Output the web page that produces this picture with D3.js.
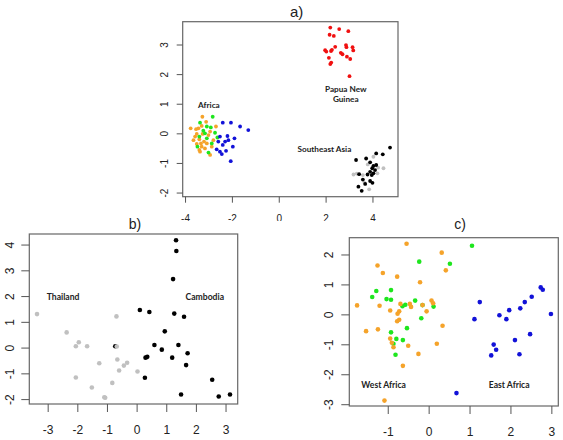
<!DOCTYPE html>
<html><head><meta charset="utf-8">
<script src="https://cdn.jsdelivr.net/npm/d3@7"></script>
<style>
html,body{margin:0;padding:0;background:#fff;}
svg{display:block;}
</style></head>
<body>
<svg id="chart" width="563" height="440"></svg>
<script>
// ---------- Panel a data ----------
const paRedX = [2.20,2.58,2.97,2.17,2.35,2.41,2.87,2.89,1.98,2.03,2.23,2.27,2.65,2.72,3.15,3.18,2.14,2.91,3.05,2.20,2.24,3.02];
const paRedY = [3.57,3.52,3.45,3.33,3.29,2.92,2.98,2.91,2.81,2.76,2.78,2.82,2.72,2.67,2.91,2.80,2.55,2.59,2.51,2.34,2.39,1.93];
const paOrangeX = [-3.26,-3.76,-3.53,-3.29,-3.50,-3.25,-3.00,-3.39,-3.64,-3.19,-3.07,-3.50,-3.29,-3.39,-3.15,-2.93,-3.36,-2.79,-2.68,-2.93,-3.57,-3.32,-2.86,-3.43,-3.10];
const paOrangeY = [0.56,0.17,0.14,0.25,-0.02,-0.02,-0.06,-0.20,-0.23,-0.28,-0.34,-0.36,-0.45,-0.56,-0.51,-0.73,-0.62,-0.23,0.23,0.06,-0.11,-0.34,-0.45,0.17,0.39];
const paGreenX = [-2.82,-3.36,-3.07,-2.90,-2.72,-3.22,-3.39,-3.07,-3.47,-3.00,-2.62,-3.15,-2.86];
const paGreenY = [0.56,0.36,0.23,0.20,0.02,0.09,-0.11,-0.17,-0.45,-0.65,-0.14,0.00,-0.34];
const paBlueX = [-2.39,-2.04,-1.65,-1.30,-2.51,-2.19,-1.89,-2.58,-2.29,-1.96,-2.39,-2.43,-2.65,-2.51,-2.05,-2.25,-2.15];
const paBlueY = [0.36,0.36,0.23,0.11,-0.11,-0.09,-0.17,-0.28,-0.28,-0.45,-0.39,-0.70,-0.54,-0.62,-0.94,-0.59,-0.23];
const paGreyX = [4.24,4.47,3.80,3.19,3.33,3.59,3.86,3.66,4.21,4.04];
const paGreyY = [-1.16,-1.18,-1.05,-1.39,-1.36,-1.41,-1.89,-1.67,-1.35,-0.79];
const paBlackX = [4.75,4.44,4.16,3.73,3.30,3.90,4.04,3.99,4.11,3.90,4.04,3.79,3.43,3.59,3.90,4.00,3.69,3.40,3.54,4.16,3.97];
const paBlackY = [-0.48,-0.71,-0.68,-0.85,-0.90,-0.98,-1.10,-1.18,-1.24,-1.30,-1.35,-1.39,-1.38,-1.56,-1.61,-1.67,-1.71,-1.80,-1.94,-1.07,-1.41];
const paXTicks = [-4,-2,0,2,4];
const paYTicks = [-2,-1,0,1,2,3];
const paLabels = ["Africa","Papua New|Guinea","Southeast Asia"];
const paLabelPos = [[-2.98,0.86],[2.86,1.41],[1.95,-0.63]];

// ---------- Panel b data ----------
const pbBlackX = [1.33,1.34,1.23,0.11,0.43,1.27,1.60,0.95,0.60,1.41,0.85,1.72,0.30,0.36,1.20,1.67,0.28,2.55,1.50,2.77,3.15,-0.72];
const pbBlackY = [4.17,3.75,2.66,1.46,1.38,1.32,1.20,0.63,0.10,0.10,-0.08,-0.22,-0.39,-0.36,-0.39,-0.68,-1.17,-1.25,-1.82,-1.90,-1.82,0.05];
const pbGreyX = [-3.36,-2.36,-1.95,-2.05,-1.67,-0.68,-0.67,-0.65,-1.26,-0.32,-0.43,-0.59,0.03,-2.05,-0.82,-1.51,-1.06,-1.09];
const pbGreyY = [1.30,0.59,0.21,0.05,0.05,1.21,0.04,-0.46,-0.61,-0.59,-0.70,-0.89,-0.93,-1.16,-1.37,-1.55,-1.95,-1.93];
const pbXTicks = [-3,-2,-1,0,1,2,3];
const pbYTicks = [-2,-1,0,1,2,3,4];
const pbLabels = ["Thailand","Cambodia"];
const pbLabelPos = [[-2.48,1.84],[2.30,1.84]];

// ---------- Panel c data ----------
const pcOrangeX = [-0.54,0.32,-1.25,-1.12,-0.77,-0.21,0.42,-1.75,-1.20,-0.69,-0.46,-0.43,-0.15,0.07,0.11,-0.05,-0.94,-0.76,-0.72,-0.77,-0.72,0.34,-1.53,-1.24,-0.94,-0.86,-0.50,0.20,-0.25,-0.63,-1.08,-0.90];
const pcOrangeY = [2.36,2.06,1.63,1.38,1.26,1.07,1.47,0.30,0.29,0.35,0.35,0.25,0.31,0.46,0.37,0.10,0.13,0.02,0.10,-0.23,-0.18,-0.38,-0.56,-0.50,-0.81,-1.10,-1.05,-0.98,-1.32,-1.72,-2.88,-0.95];
const pcGreenX = [1.06,-0.23,0.52,-1.28,-1.38,-0.92,-1.03,-0.92,-0.33,-0.57,-0.64,-0.15,0.12,-0.18,-0.53,-0.92,-0.63,-0.79,-0.86,-0.81];
const pcGreenY = [2.29,1.76,1.69,0.78,0.58,0.81,0.51,0.49,0.46,0.32,0.27,0.31,0.26,-0.13,-0.46,-0.60,-0.86,-0.82,-0.98,-1.35];
const pcBlueX = [1.25,1.12,1.73,1.97,1.90,2.24,2.35,2.52,2.74,2.79,2.99,2.11,2.48,1.59,1.65,1.53,2.22,0.68];
const pcBlueY = [0.41,-0.16,-0.03,0.14,-0.16,0.20,0.41,0.59,0.90,0.82,0.01,-0.86,-0.66,-1.01,-1.18,-1.37,-1.33,-2.63];
const pcXTicks = [-1,0,1,2,3];
const pcYTicks = [-3,-2,-1,0,1,2];
const pcLabels = ["West Africa","East Africa"];
const pcLabelPos = [[-1.10,-2.47],[1.97,-2.47]];

const COL = {red:"#f01010", orange:"#f5a32a", green:"#1ee61e", blue:"#1212d8", grey:"#c0c0c0", black:"#000000"};

const svg = d3.select("#chart");

// clip for panel a (its x tick labels are cut by the lower panels)
svg.append("defs").append("clipPath").attr("id","clipA")
  .append("rect").attr("x",0).attr("y",0).attr("width",563).attr("height",221);

function panel(opts){
  const g = svg.append("g");
  if (opts.clip) g.attr("clip-path","url(#"+opts.clip+")");
  const x = d3.scaleLinear().domain(opts.xDom).range([opts.left, opts.right]);
  const y = d3.scaleLinear().domain(opts.yDom).range([opts.bottom, opts.top]);
  g.append("text").attr("x", opts.titleX).attr("y", opts.titleY)
    .attr("text-anchor","middle").attr("font-family","Liberation Sans, Arial, sans-serif")
    .attr("font-size", opts.titleSize).attr("fill","#222").text(opts.title);
  g.append("rect").attr("x",opts.left).attr("y",opts.top)
    .attr("width",opts.right-opts.left).attr("height",opts.bottom-opts.top)
    .attr("fill","none").attr("stroke","#666").attr("stroke-width",1.2);
  const gx = g.append("g").attr("transform","translate(0,"+opts.bottom+")")
    .call(d3.axisBottom(x).tickValues(opts.xTicks).tickSize(opts.tick).tickSizeOuter(0)
      .tickPadding(opts.xPad).tickFormat(d3.format("d")));
  gx.select(".domain").remove();
  gx.selectAll("line").attr("stroke","#555");
  gx.selectAll("text").attr("font-family","Liberation Sans, Arial, sans-serif")
    .attr("font-size",opts.tickFont).attr("fill","#222")
    .text(d => d < 0 ? "-" + Math.abs(d) : String(d));
  const gy = g.append("g").attr("transform","translate("+opts.left+",0)")
    .call(d3.axisLeft(y).tickValues(opts.yTicks).tickSize(opts.tick).tickSizeOuter(0)
      .tickFormat(d3.format("d")));
  gy.select(".domain").remove();
  gy.selectAll("line").attr("stroke","#555");
  gy.selectAll("text").attr("x",null)
    .attr("text-anchor","middle")
    .attr("transform","translate("+(-opts.yOff)+",0) rotate(-90)")
    .attr("dy","0.36em")
    .attr("font-family","Liberation Sans, Arial, sans-serif")
    .attr("font-size",opts.tickFont).attr("fill","#222")
    .text(d => d < 0 ? "-" + Math.abs(d) : String(d));
  opts.series.forEach(s => {
    g.append("g").selectAll("circle").data(s.xs.map((v,i)=>[v,s.ys[i]])).join("circle")
      .attr("cx", d => x(d[0])).attr("cy", d => y(d[1]))
      .attr("r", opts.r).attr("fill", s.color);
  });
  opts.labels.forEach((lab,i) => {
    const parts = lab.split("|");
    const t = g.append("text").attr("x", x(opts.labelPos[i][0])).attr("y", y(opts.labelPos[i][1]))
      .attr("text-anchor","middle").attr("font-family","Lato, Open Sans, sans-serif")
      .attr("font-weight","bold").attr("font-size",opts.labelFont).attr("fill","#222");
    parts.forEach((p,j) => {
      t.append("tspan").attr("x", x(opts.labelPos[i][0])).attr("dy", j===0 ? 0 : "1.3em").text(p);
    });
  });
  return {x,y};
}

// Panel a
panel({
  clip:"clipA",
  left:182.7, right:398, top:21.7, bottom:196.7,
  xDom:[-4.1,5.09], yDom:[-2.14,3.77],
  xTicks:paXTicks, yTicks:paYTicks, tick:6, xPad:12, yOff:18, tickFont:10,
  title:"a)", titleX:296.7, titleY:17, titleSize:15,
  r:1.9, labelFont:8.2,
  series:[
    {xs:paRedX, ys:paRedY, color:COL.red},
    {xs:paOrangeX, ys:paOrangeY, color:COL.orange},
    {xs:paGreenX, ys:paGreenY, color:COL.green},
    {xs:paBlueX, ys:paBlueY, color:COL.blue},
    {xs:paGreyX, ys:paGreyY, color:COL.grey},
    {xs:paBlackX, ys:paBlackY, color:COL.black}
  ],
  labels:paLabels, labelPos:paLabelPos
});

// Panel b
panel({
  left:29.3, right:237.7, top:234, bottom:404,
  xDom:[-3.62,3.41], yDom:[-2.19,4.41],
  xTicks:pbXTicks, yTicks:pbYTicks, tick:8, xPad:13, yOff:19.5, tickFont:12,
  title:"b)", titleX:135, titleY:229, titleSize:14,
  r:2.3, labelFont:8.6,
  series:[
    {xs:pbBlackX, ys:pbBlackY, color:COL.black},
    {xs:pbGreyX, ys:pbGreyY, color:COL.grey}
  ],
  labels:pbLabels, labelPos:pbLabelPos
});

// Panel c
panel({
  left:349.3, right:558.3, top:237.7, bottom:406,
  xDom:[-1.94,3.17], yDom:[-3.06,2.56],
  xTicks:pcXTicks, yTicks:pcYTicks, tick:8, xPad:13, yOff:20.5, tickFont:12,
  title:"c)", titleX:460, titleY:229, titleSize:14,
  r:2.3, labelFont:8.6,
  series:[
    {xs:pcGreenX, ys:pcGreenY, color:COL.green},
    {xs:pcOrangeX, ys:pcOrangeY, color:COL.orange},
    {xs:pcBlueX, ys:pcBlueY, color:COL.blue}
  ],
  labels:pcLabels, labelPos:pcLabelPos
});
</script>
</body></html>
